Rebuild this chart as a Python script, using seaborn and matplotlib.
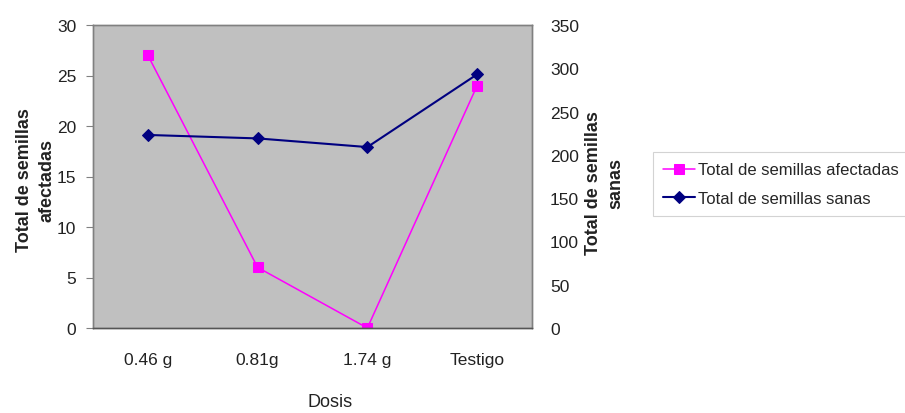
import matplotlib
matplotlib.use("Agg")
import matplotlib.pyplot as plt
import pandas as pd
import seaborn as sns
from matplotlib.ticker import FixedLocator

# Data
dosis = ['0.46 g', '0.81g', '1.74 g', 'Testigo']
afectadas = [27, 6, 0, 24]
sanas = [223, 219, 209, 293]

df = pd.DataFrame({'Dosis': dosis, 'afectadas': afectadas, 'sanas': sanas})

sns.set_style('white')
plt.rcParams['font.family'] = ['Liberation Sans', 'DejaVu Sans']

pink = '#FF00FF'
navy = '#000080'
axis_col = '#808080'
text_col = '#222222'

fig = plt.figure(figsize=(9.05, 4.14), dpi=100)
ax = fig.add_axes([93 / 905, 1 - 329 / 414, 439 / 905, 303 / 414])
ax.set_facecolor('#C0C0C0')

sns.lineplot(data=df, x='Dosis', y='afectadas', ax=ax, sort=False, color=pink,
             marker='s', markersize=7, markeredgecolor=pink, linewidth=1.1,
             label='Total de semillas afectadas', legend=False)

ax2 = ax.twinx()
sns.lineplot(data=df, x='Dosis', y='sanas', ax=ax2, sort=False, color=navy,
             marker='D', markersize=6, markeredgecolor=navy, linewidth=1.5,
             label='Total de semillas sanas', legend=False)

ax.set_xlim(-0.5, 3.5)
ax.set_ylim(0, 30)
ax.set_yticks(range(0, 31, 5))
ax2.set_ylim(0, 350)
ax2.set_yticks(range(0, 351, 50))

# category boundaries as tick marks, labels at centres
ax.xaxis.set_minor_locator(FixedLocator([0.5, 1.5, 2.5]))
ax.tick_params(axis='x', which='major', length=0, pad=17, labelsize=12.5, labelcolor=text_col)
ax.tick_params(axis='x', which='minor', length=6, direction='inout', color=axis_col, width=0.8)
ax.tick_params(axis='y', length=5, direction='out', color=axis_col, width=0.8,
               labelsize=12.5, labelcolor=text_col, pad=7, left=True)
ax2.tick_params(axis='y', length=0, labelsize=12.5, labelcolor=text_col, pad=13)

for a in (ax, ax2):
    for side in ['left', 'bottom', 'top', 'right']:
        a.spines[side].set_visible(True)
        a.spines[side].set_color(axis_col)
        a.spines[side].set_linewidth(1.0)
ax.spines['bottom'].set_color('#555555')
ax2.spines['bottom'].set_color('#555555')

ax.set_xlabel('Dosis', fontsize=13, color=text_col)
ax.xaxis.set_label_coords(0.54, -0.215)
ax.set_ylabel('Total de semillas\nafectadas', fontsize=13, fontweight='bold',
              color=text_col, linespacing=1.45)
ax.yaxis.set_label_coords(-0.085, 0.49)
ax2.set_ylabel('Total de semillas\nsanas', fontsize=13, fontweight='bold',
               color=text_col, linespacing=1.45, rotation=90)
ax2.yaxis.set_label_coords(1.12, 0.48)

h1, l1 = ax.get_legend_handles_labels()
h2, l2 = ax2.get_legend_handles_labels()
leg = fig.legend(h1 + h2, l1 + l2, loc='upper left',
                 bbox_to_anchor=(645 / 905, 1 - 145 / 414),
                 fontsize=12, frameon=True, fancybox=False, handlelength=1.9,
                 handletextpad=0.2, borderpad=0.6, labelspacing=0.8,
                 edgecolor='#C8C8C8', facecolor='white')
leg.get_frame().set_linewidth(0.8)

fig.savefig('out.png', dpi=100)
